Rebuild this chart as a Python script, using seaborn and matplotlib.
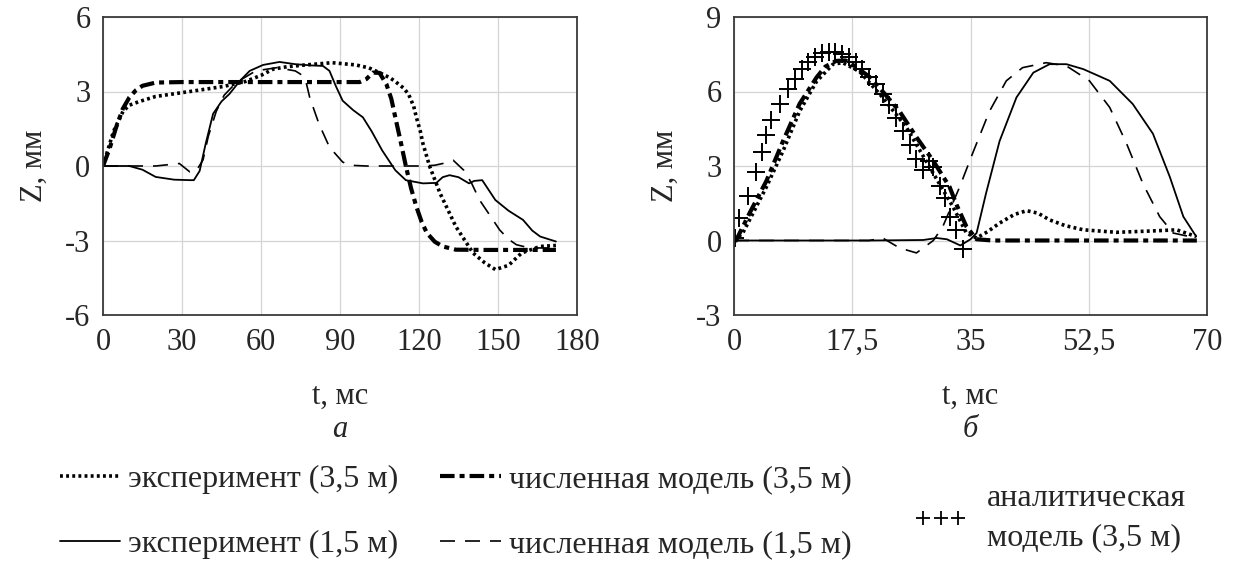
import numpy as np
import pandas as pd
import seaborn as sns
from matplotlib import pyplot as plt
from matplotlib.lines import Line2D

sns.set_style('white')
plt.rcParams['font.family'] = ['Liberation Serif', 'DejaVu Serif']
plt.rcParams['axes.unicode_minus'] = False

# ---- panel a (left) ----
a_exp35_t = [0, 2, 4, 7.6, 10, 13.9, 20, 33, 45.6, 54, 60, 64.6, 70, 77, 87, 96, 101, 105, 109, 111,
             114, 116, 118, 119, 120.5, 121.5, 124, 128, 134, 140.5, 145, 149, 154, 159, 166, 172]
a_exp35_z = [0, 0.7, 1.4, 2.2, 2.45, 2.6, 2.8, 3.0, 3.2, 3.4, 3.65, 3.9, 4.0, 4.07, 4.16, 4.07, 3.95,
             3.76, 3.55, 3.4, 3.15, 2.9, 2.4, 1.96, 1.4, 0.9, 0, -1.1, -2.44, -3.5, -3.9, -4.17, -4.0,
             -3.5, -3.24, -3.2]

a_num35_t = [0, 2.5, 5, 7.5, 10, 12.5, 15, 20, 30, 50, 70, 90, 97.5, 100, 102.5, 105, 107.6, 109.5,
             111, 113, 115, 117, 119, 121, 123, 126, 129, 134, 145, 160, 172]
a_num35_z = [0, 0.7, 1.56, 2.3, 2.76, 3.05, 3.23, 3.36, 3.38, 3.38, 3.38, 3.38, 3.38, 3.5, 3.76, 3.75,
             3.3, 2.7, 1.96, 1.0, 0, -0.9, -1.64, -2.25, -2.7, -3.05, -3.24, -3.37, -3.38, -3.38, -3.38]

a_exp15_t = [0, 5, 10, 15, 20, 27, 33, 34.5, 36.7, 39, 41.8, 45, 48, 52, 55.7, 60.8, 67, 73, 79, 83.5,
             86, 88.5, 91, 95, 98.7, 102, 106, 111, 115, 121.5, 126.6, 129, 131.6, 135, 139, 141, 144,
             149, 154, 159.5, 163, 166, 172]
a_exp15_z = [0, 0, 0, -0.15, -0.44, -0.55, -0.57, -0.57, -0.2, 0.9, 2.1, 2.6, 2.9, 3.43, 3.83, 4.07,
             4.19, 4.1, 4.05, 4.03, 3.83, 3.2, 2.63, 2.25, 1.96, 1.4, 0.63, -0.17, -0.57, -0.7, -0.68,
             -0.45, -0.37, -0.45, -0.7, -0.6, -0.57, -1.37, -1.8, -2.17, -2.6, -2.84, -3.04]

a_num15_t = [0, 10, 20, 29, 33, 35.4, 38, 40, 43, 46, 50.6, 58, 66, 73, 75, 77, 78.5, 82, 86, 91,
             93.7, 100, 110, 121.5, 126, 129, 133, 137, 140, 143, 147, 150.6, 154, 157, 162, 167, 172]
a_num15_z = [0, 0, 0, 0.1, -0.24, -0.2, 0.25, 1.2, 2.2, 2.85, 3.36, 3.83, 3.96, 3.83, 3.7, 3.43, 2.76,
             1.7, 0.76, 0.16, 0.03, 0, 0, 0, 0.03, 0.1, 0.23, -0.17, -0.7, -1.37, -2.0, -2.57, -2.95,
             -3.17, -3.3, -3.3, -3.3]

# ---- panel b (right) ----
b_exp35_t = [0, 1.3, 3, 4.8, 7.25, 9.7, 12.2, 14.65, 16.1, 18.6, 22, 25.5, 29.5, 32.4, 34.4, 35.9,
             37.5, 39.3, 41.5, 43.3, 45, 46.7, 49, 51.7, 56.6, 61.5, 65.5, 68.4]
b_exp35_z = [0, 0.3, 1.2, 2.16, 3.6, 5.2, 6.4, 7.1, 7.16, 6.8, 5.76, 4.56, 2.7, 1.36, 0.3, 0.1, 0.35,
             0.7, 1.05, 1.2, 1.1, 0.83, 0.6, 0.43, 0.33, 0.38, 0.43, 0.16]

b_num35_t = [0, 0.3, 2.3, 4.8, 7.25, 9.7, 12.2, 13.5, 15.1, 16.5, 18, 20, 22, 24.5, 27, 29.5, 31.9,
             33, 34.4, 35.9, 38.3, 50, 60, 68.5]
b_num35_z = [0, 0, 1.1, 2.4, 4.0, 5.5, 6.56, 7.0, 7.23, 7.25, 7.0, 6.6, 6.0, 5.2, 4.16, 3.2, 2.16,
             1.4, 0.56, 0.05, 0, 0, 0, 0]

b_exp15_t = [0, 10, 20, 28, 30, 31.5, 33.5, 35, 35.9, 37.3, 39.3, 41.8, 44.3, 46.7, 49.2, 51.7, 55.6,
             59, 62, 64.5, 66.5, 68.4]
b_exp15_z = [0, 0, 0, 0.02, 0.1, 0.05, -0.2, 0.05, 0.3, 1.9, 4.0, 5.76, 6.76, 7.1, 7.1, 6.9, 6.43,
             5.5, 4.3, 2.56, 0.96, 0.16]

b_num15_t = [0, 10, 20, 22, 24.5, 27, 29.5, 30.9, 33.4, 35.3, 37.8, 40.3, 42.7, 46.2, 49.2, 52.6,
             55.6, 58.1, 60.5, 63, 65, 68.4]
b_num15_z = [0, 0, 0, 0.1, -0.3, -0.5, 0, 0.56, 2.16, 3.5, 5.2, 6.43, 6.96, 7.16, 7.03, 6.43, 5.36,
             3.9, 2.3, 0.96, 0.3, 0.1]

b_anal_t = [0.2, 0.7, 2.0, 3.3, 4.1, 4.8, 5.5, 6.8, 8.0, 9.0, 10.0, 11.0, 12.0, 13.0, 14.0, 15.0,
            16.0, 17.0, 18.0, 19.0, 20.0, 21.0, 22.0, 23.0, 24.0, 25.0, 26.0, 27.0, 28.0, 28.8,
            29.5, 30.5, 31.2, 31.9, 32.9, 33.9]
b_anal_z = [0.1, 0.9, 1.8, 2.75, 3.55, 4.25, 4.85, 5.5, 6.1, 6.5, 6.9, 7.2, 7.4, 7.55, 7.6, 7.6, 7.5,
            7.4, 7.2, 6.9, 6.6, 6.3, 5.9, 5.45, 4.95, 4.4, 3.85, 3.3, 2.85, 3.2, 2.96, 2.2, 1.7,
            0.96, 0.43, -0.35]

a_xticks = [0, 30, 60, 90, 120, 150, 180]
a_yticks = [-6, -3, 0, 3, 6]
b_xticks = [0, 17.5, 35, 52.5, 70]
b_xlabels = ['0', '17,5', '35', '52,5', '70']
b_yticks = [-3, 0, 3, 6, 9]

labels = ['эксперимент (3,5 м)', 'эксперимент (1,5 м)',
          'численная модель (3,5 м)', 'численная модель (1,5 м)']
anal_label = 'аналитическая\nмодель (3,5 м)'

# line styles
st_exp35 = dict(color='k', lw=2.6, linestyle=(0, (0.8, 0.9)))
st_num35 = dict(color='k', lw=3.0, linestyle=(0, (3.5, 1.2, 1.2, 1.2)))
st_exp15 = dict(color='k', lw=1.3, linestyle='-')
st_num15 = dict(color='k', lw=1.2, linestyle=(0, (9, 6)))

fs = 22
lfs = 23
fig = plt.figure(figsize=(12.4, 5.64), dpi=100)
ax1 = fig.add_axes([103 / 1240, 1 - 315 / 564, 474 / 1240, 298 / 564])
ax2 = fig.add_axes([734 / 1240, 1 - 315 / 564, 473 / 1240, 298 / 564])

for ax, series in [
    (ax1, [(a_exp35_t, a_exp35_z, st_exp35), (a_num35_t, a_num35_z, st_num35),
           (a_exp15_t, a_exp15_z, st_exp15), (a_num15_t, a_num15_z, st_num15)]),
    (ax2, [(b_exp35_t, b_exp35_z, st_exp35), (b_num35_t, b_num35_z, st_num35),
           (b_exp15_t, b_exp15_z, st_exp15), (b_num15_t, b_num15_z, st_num15)]),
]:
    for t, z, st in series:
        sns.lineplot(x=t, y=z, ax=ax, sort=False, estimator=None, **st)

# analytic model: sort by time so the pair near 29 ms is not out of order
anal = pd.DataFrame({'t': b_anal_t, 'z': b_anal_z}).sort_values('t')
sns.scatterplot(data=anal, x='t', y='z', ax=ax2, marker='+', s=160, color='k', linewidth=1.4)

for ax, xt, yt, letter in [(ax1, a_xticks, a_yticks, 'а'), (ax2, b_xticks, b_yticks, 'б')]:
    ax.set_xlim(xt[0], xt[-1])
    ax.set_ylim(yt[0], yt[-1])
    ax.set_xticks(xt)
    ax.set_yticks(yt)
    ax.grid(True, color='#d4d4d4', lw=0.9)
    ax.tick_params(length=0, labelsize=fs, pad=9)
    for sp in ax.spines.values():
        sp.set_color('#3a3a3a')
        sp.set_linewidth(1.3)
    ax.set_xlabel('t, мс', fontsize=fs, labelpad=18)
    ax.set_ylabel('Z, мм', fontsize=fs, labelpad=12)
    ax.text(0.5, -0.385, letter, transform=ax.transAxes, ha='center', va='center',
            fontsize=fs, style='italic')

ax2.set_xticklabels(b_xlabels)

handles = [Line2D([], [], **st_exp35), Line2D([], [], **st_exp15),
           Line2D([], [], **st_num35), Line2D([], [], **st_num15)]
fig.legend(handles, labels, ncol=2, loc='center left', bbox_to_anchor=(31 / 1240, 1 - 512 / 564),
           frameon=False, fontsize=lfs, handlelength=1.9, handletextpad=0.25,
           columnspacing=1.3, labelspacing=1.1)
fig.legend([Line2D([], [], color='k', marker='+', markersize=10, mew=1.3, lw=0, linestyle='none')],
           [anal_label], loc='center left', bbox_to_anchor=(885 / 1240, 1 - 518 / 564),
           frameon=False, fontsize=lfs, handletextpad=0.6, numpoints=3, handlelength=1.7)
for txt in fig.legends[1].get_texts():
    txt.set_linespacing(1.45)

plt.savefig('out.png', dpi=100)
